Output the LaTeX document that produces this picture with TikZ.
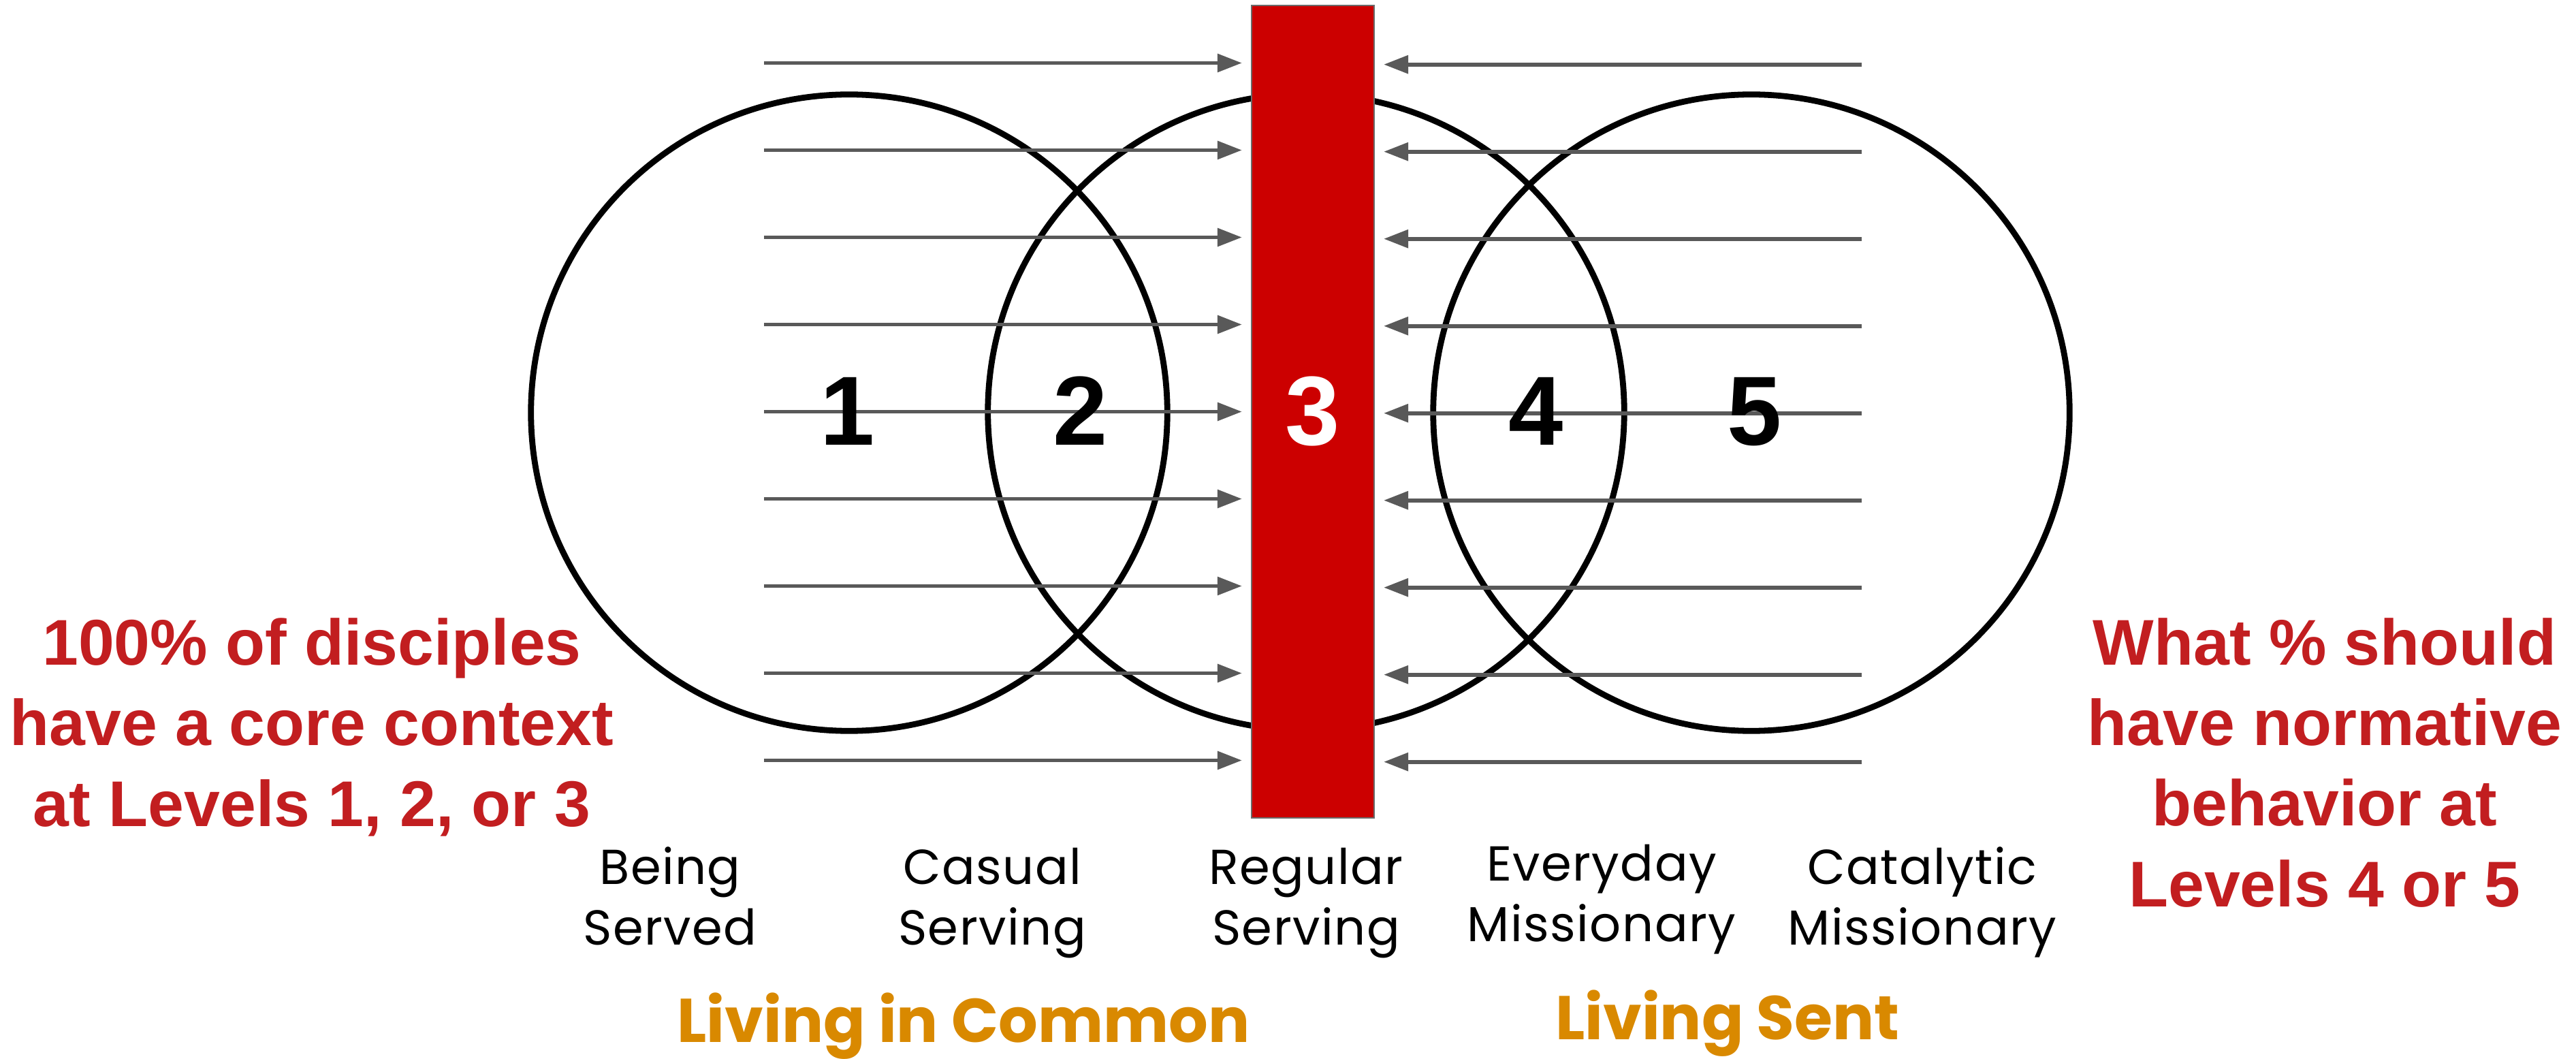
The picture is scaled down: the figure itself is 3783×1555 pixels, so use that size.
\documentclass[tikz,border=0pt]{standalone}
\usepackage{fontspec}
\setmainfont{Liberation Sans}
\newfontfamily\pop[LetterSpace=2]{Poppins}
\newfontfamily\popb{Poppins}
\usetikzlibrary{arrows.meta}
\definecolor{barred}{HTML}{CC0000}
\definecolor{barline}{HTML}{6B6B6B}
\definecolor{txtred}{RGB}{194,30,32}
\definecolor{arrgray}{HTML}{595959}
\definecolor{orng}{RGB}{217,137,0}
\begin{document}
\begin{tikzpicture}[x=0.01cm,y=-0.01cm,
  ring/.style={circle,draw=black,line width=2.5pt,minimum size=9.34cm,inner sep=0pt,outer sep=0pt},
  arr/.style={draw=arrgray,line width=1.7pt,-{Triangle[length=0.36cm,width=0.26cm]},shorten >=0.14cm},
  num/.style={font=\fontsize{41}{41}\selectfont\bfseries,inner sep=0pt,anchor=base},
  note/.style={text=txtred,font=\fontsize{27}{33.6}\selectfont\bfseries,align=center,inner sep=0pt,anchor=base},
  lvl/.style={font=\pop\fontsize{20.5}{25.3}\selectfont,align=center,inner sep=0pt,anchor=base},
  grp/.style={text=orng,font=\popb\bfseries\fontsize{25.8}{30}\selectfont,inner sep=0pt,anchor=base}]
\useasboundingbox (0,0) rectangle (3783,1555);

% circles
\node[ring] (c1) at (1247,606) {};
\node[ring] (c2) at (1918,605) {};
\node[ring] (c3) at (2572,606) {};

% arrow start points
\foreach \k in {0,...,8}{
  \coordinate (L\k) at (1122,{92.5+128*\k});
  \coordinate (R\k) at (2734,{94.7+128*\k});
}

% bar
\node[fill=barred,draw=barline,line width=0.6pt,minimum width=1.8cm,minimum height=11.93cm,inner sep=0pt,outer sep=0pt] (bar) at (1928,604.5) {};

\foreach \k in {0,...,8}{
  \draw[arr] (L\k) -- (L\k -| bar.west);
  \draw[arr] (R\k) -- (R\k -| bar.east);
}

% numbers
\node[num] (n1) at (1245,654) {1};
\node[num] (n2) at (1587,654) {2};
\node[num,text=white] (n3) at (1928,654) {3};
\node[num] (n4) at (2256,654) {4};
\node[num] (n5) at (2577,654) {5};

% notes (base anchor = last line baseline)
\node[note] (noteL) at (458,1213) {100\% of disciples\\have a core context\\at Levels 1, 2, or 3};
\node[note] (noteR) at (3414,1331) {What \% should\\have normative\\behavior at\\Levels 4 or 5};

% level labels
\node[lvl] (l1) at (984,1387) {Being\\Served};
\node[lvl] (l2) at (1457,1387) {Casual\\Serving};
\node[lvl] (l3) at (1918,1387) {Regular\\Serving};
\node[lvl] (l4) at (2352,1382) {Everyday\\Missionary};
\node[lvl] (l5) at (2823,1387) {Catalytic\\Missionary};

% groups
\node[grp] (g1) at (1415,1530) {Living in Common};
\node[grp] (g2) at (2537,1526) {Living Sent};
\end{tikzpicture}
\end{document}
